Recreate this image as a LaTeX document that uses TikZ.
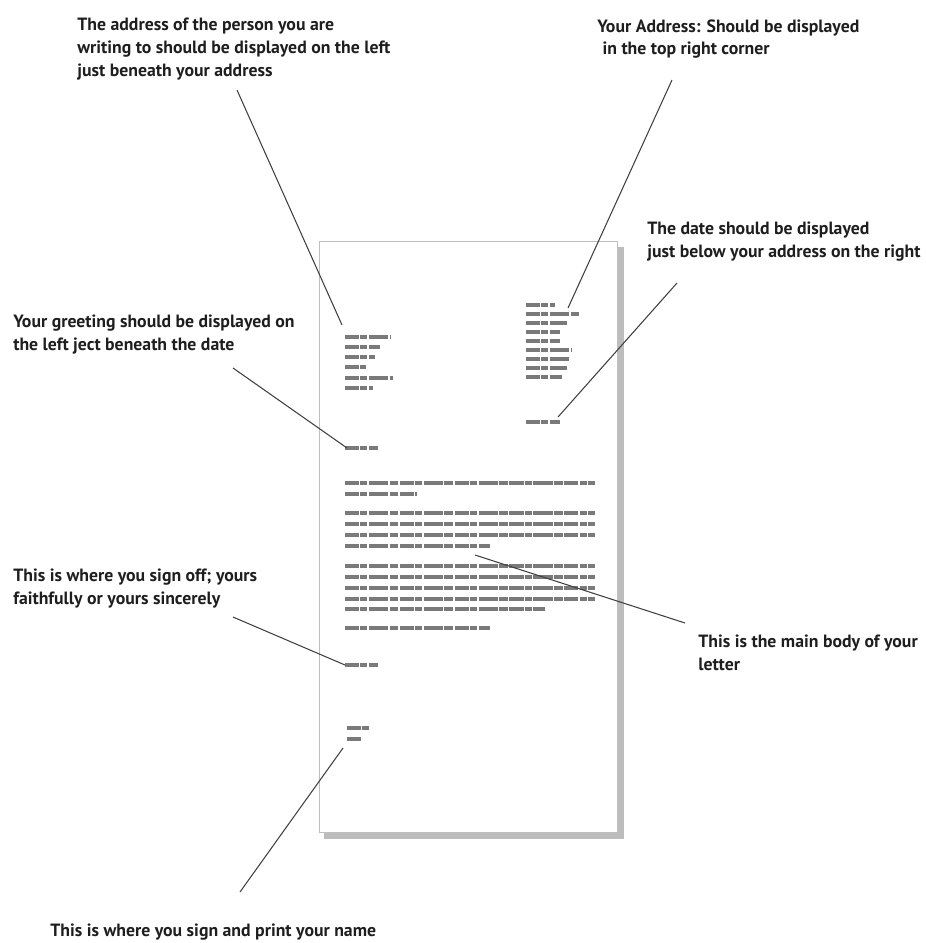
\documentclass[tikz,border=0pt]{standalone}
\usepackage{fontspec}
\setmainfont{PT Sans}
\usepackage{tikz}
\usetikzlibrary{positioning,calc}
\definecolor{ink}{HTML}{1E1E1E}
\definecolor{scribble}{HTML}{7A7A7A}
\definecolor{shadow}{HTML}{BDBDBD}
\tikzset{
  note/.style={font=\bfseries\fontsize{10.1}{12.9}\selectfont,text=ink,align=left,anchor=north west,inner sep=0pt},
  pointer/.style={draw=ink!85,line width=0.6pt},
  scrib/.style={scribble,line width=1.8pt,dash pattern=on 8pt off 0.8pt on 4pt off 0.8pt on 11pt off 0.8pt on 5pt off 0.8pt},
  sheet/.style={draw=black!25,fill=white,line width=0.5pt}
}

\begin{document}
\begin{tikzpicture}[x=0.02cm,y=-0.02cm]
\useasboundingbox (0,0) rectangle (926,943);

% the sheet and its shadow
\fill[shadow] (324,247) rectangle (624,839);
\draw[sheet] (319,241) rectangle (617,832);

% letter contents (too small to read)
\foreach \yy/\xe in {337/390,347/380,357/375,367/366,378/393,388/373}
  \draw[scrib] (345,\yy) -- (\xe,\yy);
\foreach \yy/\xe in {305/555,314/580,323/567,332/560,341/560,350/572,359/570,368/567,377/562}
  \draw[scrib] (526,\yy) -- (\xe,\yy);
\draw[scrib] (526,422) -- (560,422);
\draw[scrib] (345,448) -- (378,448);
\foreach \yy/\xe in {483/595,494/417,
  513/595,524/595,535/595,546/490,
  566/595,577/595,588/595,599/595,609/545,
  628/490}
  \draw[scrib] (345,\yy) -- (\xe,\yy);
\draw[scrib] (345,665) -- (378,665);
\draw[scrib] (347,728) -- (370,728);
\draw[scrib] (347,739) -- (362,739);

% where the pointers end on the sheet
\coordinate (recip) at (342,325);
\coordinate (sender) at (568,308);
\coordinate (date) at (558,417);
\coordinate (greet) at (347,448);
\coordinate (body) at (475,555);
\coordinate (close) at (345,665);
\coordinate (sign) at (343,748);

% notes
\node[note] (nrecip) at (77,18) {The address of the person you are\\writing to should be displayed on the left\\just beneath your address};
\node[note] (nsender) at (597,19) {Your Address: Should be displayed\\\hspace{3pt}in the top right corner};
\node[note] (ndate) at (647,222) {The date should be displayed\\just below your address on the right};
\node[note] (ngreet) at (13,315) {Your greeting should be displayed on\\the left ject beneath the date};
\node[note] (nclose) at (13,569) {This is where you sign off; yours\\faithfully or yours sincerely};
\node[note] (nbody) at (698,635) {This is the main body of your\\letter};
\node[note] (nsign) at (50,924) {This is where you sign and print your name};

\coordinate (trecip) at (237,90);
\coordinate (tsender) at (672,80);
\coordinate (tdate) at (677,283);
\coordinate (tgreet) at (233,368);
\coordinate (tbody) at (685,623);
\coordinate (tclose) at (233,617);
\coordinate (tsign) at (240,892);

\draw[pointer] (trecip) -- (recip);
\draw[pointer] (tsender) -- (sender);
\draw[pointer] (tdate) -- (date);
\draw[pointer] (tgreet) -- (greet);
\draw[pointer] (tbody) -- (body);
\draw[pointer] (tclose) -- (close);
\draw[pointer] (tsign) -- (sign);
\end{tikzpicture}
\end{document}
